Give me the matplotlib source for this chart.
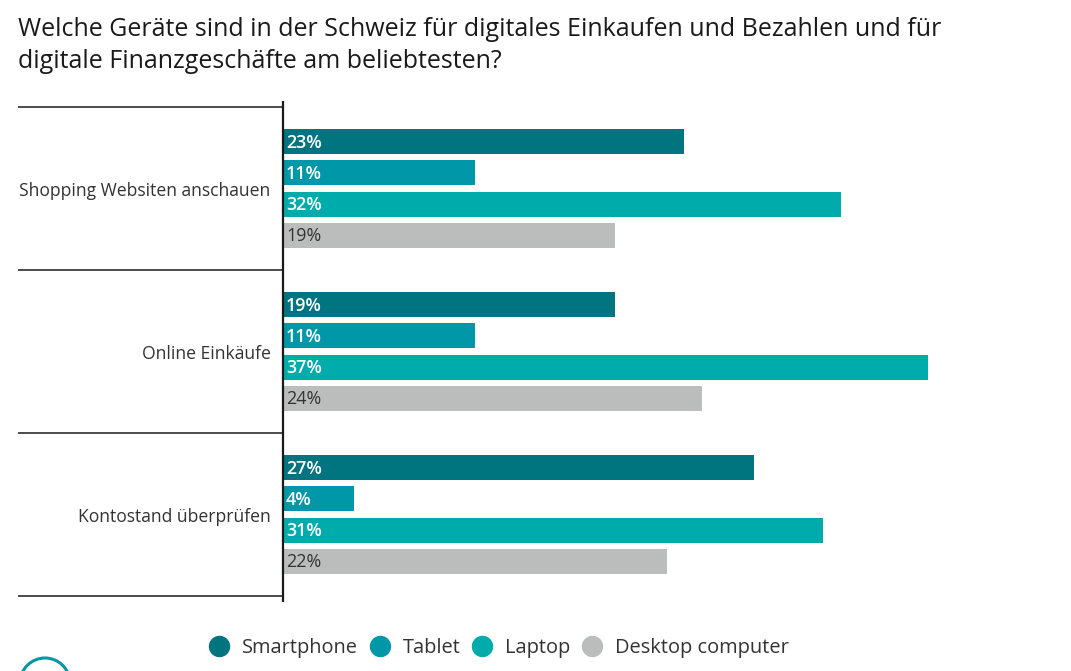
import matplotlib
matplotlib.use('Agg')
import matplotlib.pyplot as plt
from matplotlib.lines import Line2D
from matplotlib.patches import Circle

plt.rcParams['font.family'] = 'Open Sans'

# Daten
kategorien = ['Shopping Websiten anschauen', 'Online Einkäufe', 'Kontostand überprüfen']
serien = ['Smartphone', 'Tablet', 'Laptop', 'Desktop computer']
smartphone = [23, 19, 27]
tablet = [11, 11, 4]
laptop = [32, 37, 31]
desktop = [19, 24, 22]

farben = ['#00747f', '#0097a9', '#00abab', '#bbbcbc']
text_farben = ['white', 'white', 'white', '#333333']

W, H = 1071, 671
fig = plt.figure(figsize=(W / 100, H / 100), dpi=100, facecolor='white')

# Achse in Pixeln der Vorlage: links 284, oben 107, unten 596
ax = fig.add_axes([284 / W, 1 - 596 / H, (W - 284) / W, (596 - 107) / H])
ax.set_xlim(0, (W - 284) / 17.4)
ax.set_ylim(2.5, -0.5)
ax.axis('off')

abstand = 31.3 / 163
hoehe = 25 / 163
versatz = 1 / 163  # Prozentzahlen etwas hoeher
werte = [smartphone, tablet, laptop, desktop]
for i, reihe in enumerate(werte):
    for g, v in enumerate(reihe):
        y = g + (i - 1.5) * abstand
        ax.barh(y, v, height=hoehe, color=farben[i])
        fw = 'semibold' if i < 3 else 'normal'
        ax.text(0.12, y - versatz, '%d%%' % v, color=text_farben[i], fontsize=12.9,
                fontweight=fw, va='center_baseline', ha='left')

# Trennlinien links und senkrechte Linie
links = (18 - 284) / (W - 284)
for y in [-0.5, 0.5, 1.5, 2.5]:
    ax.plot([links, -1 / (W - 284)], [y, y], color='#1a1a1a', lw=1.1,
            transform=ax.get_yaxis_transform(), clip_on=False, solid_capstyle='butt')
ax.plot([-1.5 / (W - 284)] * 2, [-6 / 489, 1 + 6 / 489], color='#1a1a1a', lw=1.6,
        transform=ax.transAxes, clip_on=False, solid_capstyle='butt')

for g, name in enumerate(kategorien):
    ax.text(-13.5 / (W - 284), g, name, transform=ax.get_yaxis_transform(), ha='right',
            va='center_baseline', fontsize=12.65, color='#333333')

fig.text(18 / W, 1 - 30 / H, 'Welche Geräte sind in der Schweiz für digitales Einkaufen und Bezahlen und für',
         fontsize=17.98, color='#1a1a1a', va='center')
fig.text(18 / W, 1 - 62 / H, 'digitale Finanzgeschäfte am beliebtesten?',
         fontsize=17.98, color='#1a1a1a', va='center')

handles = [Line2D([], [], ls='none', marker='o', ms=14.4, mfc=c, mec=c) for c in farben]
fig.legend(handles, serien, ncol=4, loc='center', bbox_to_anchor=(499 / W, 1 - 648 / H),
           frameon=False, fontsize=14.45, labelcolor='#333333', handletextpad=0.65,
           columnspacing=0.585, handlelength=1.0, borderaxespad=0, borderpad=0)

# angeschnittenes Symbol unten links
fig.add_artist(Circle((45, H - 683), 25, transform=None, fill=False,
                      edgecolor='#0097a9', lw=2.2))

fig.savefig('out.png', dpi=100)
